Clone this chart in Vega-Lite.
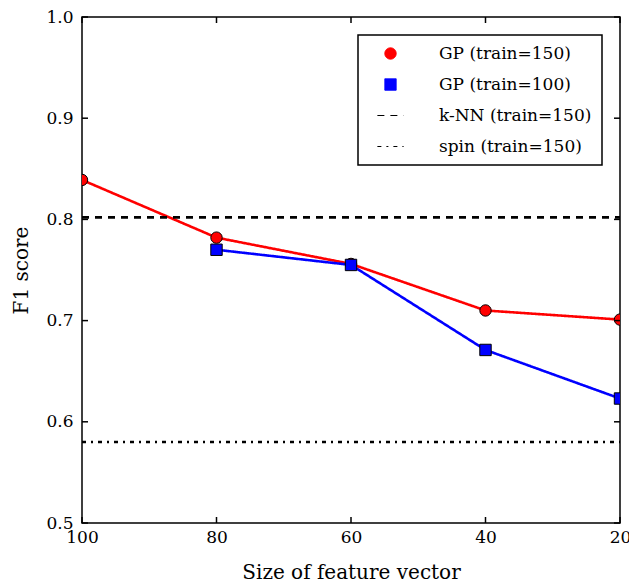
{
  "$schema": "https://vega.github.io/schema/vega-lite/v6.json",
  "width": 538,
  "height": 506,
  "autosize": {"type": "none"},
  "padding": {"left": 82, "top": 17, "right": 9, "bottom": 60},
  "background": "white",
  "config": {
    "view": {"stroke": "black", "strokeWidth": 1.5},
    "font": "DejaVu Serif",
    "axis": {
      "labelFont": "DejaVu Serif", "titleFont": "DejaVu Serif",
      "labelFontSize": 17, "titleFontSize": 20, "titleFontWeight": "normal",
      "labelColor": "black", "titleColor": "black", "labelFlush": false,
      "grid": false, "domain": false, "ticks": false
    }
  },
  "datasets": {
    "scores": [
      {"series": "GP (train=150)", "dim": 100, "f1": 0.839},
      {"series": "GP (train=150)", "dim": 80, "f1": 0.782},
      {"series": "GP (train=150)", "dim": 60, "f1": 0.756},
      {"series": "GP (train=150)", "dim": 40, "f1": 0.710},
      {"series": "GP (train=150)", "dim": 20, "f1": 0.701},
      {"series": "GP (train=100)", "dim": 80, "f1": 0.770},
      {"series": "GP (train=100)", "dim": 60, "f1": 0.755},
      {"series": "GP (train=100)", "dim": 40, "f1": 0.671},
      {"series": "GP (train=100)", "dim": 20, "f1": 0.623},
      {"series": "k-NN (train=150)", "dim": 100, "f1": 0.802},
      {"series": "k-NN (train=150)", "dim": 20, "f1": 0.802},
      {"series": "spin (train=150)", "dim": 100, "f1": 0.580},
      {"series": "spin (train=150)", "dim": 20, "f1": 0.580}
    ],
    "xticks": [{"v": 100}, {"v": 80}, {"v": 60}, {"v": 40}, {"v": 20}],
    "yticks": [{"v": 0.5}, {"v": 0.6}, {"v": 0.7}, {"v": 0.8}, {"v": 0.9}, {"v": 1.0}]
  },
  "data": {"name": "scores"},
  "resolve": {"axis": {"x": "independent", "y": "independent"}},
  "layer": [
    {
      "mark": {"type": "line", "strokeWidth": 2.6, "clip": true},
      "encoding": {
        "x": {"field": "dim", "type": "quantitative",
              "scale": {"domain": [20, 100], "reverse": true, "nice": false, "zero": false},
              "axis": {"values": [100, 80, 60, 40, 20], "title": "Size of feature vector", "labelPadding": 6, "titlePadding": 17, "orient": "bottom"}},
        "y": {"field": "f1", "type": "quantitative",
              "scale": {"domain": [0.5, 1.0], "nice": false, "zero": false},
              "axis": {"values": [0.5, 0.6, 0.7, 0.8, 0.9, 1.0], "format": ".1f", "title": "F1 score", "labelPadding": 9, "titlePadding": 14, "orient": "left"}},
        "color": {"field": "series", "type": "nominal",
                  "scale": {"domain": ["GP (train=150)", "GP (train=100)", "k-NN (train=150)", "spin (train=150)"], "range": ["#ff0000", "#0000ff", "black", "black"]},
                  "legend": {
                    "title": null, "orient": "top-right", "offset": 18,
                    "labelFont": "DejaVu Serif", "labelFontSize": 17, "labelColor": "black",
                    "strokeColor": "black", "fillColor": "white", "padding": 10,
                    "symbolSize": 130, "symbolOffset": 14,
                    "rowPadding": 13, "labelOffset": 40, "cornerRadius": 0,
                    "encode": {
                      "legend": {"update": {"strokeWidth": {"value": 1.5}}},
                      "symbols": {"update": {
                        "stroke": {"value": "black"},
                        "fill": {"scale": "color", "field": "value"},
                        "strokeWidth": {"scale": "strokeWidth", "field": "value"},
                        "strokeDash": {"scale": "strokeDash", "field": "value"},
                        "opacity": {"value": 1}
                      }}
                    }
                  }},
        "strokeDash": {"field": "series", "type": "nominal",
                       "scale": {"domain": ["GP (train=150)", "GP (train=100)", "k-NN (train=150)", "spin (train=150)"], "range": [[1, 0], [1, 0], [7, 6], [4, 5, 2, 5]]}}
      }
    },
    {
      "transform": [{"filter": "indexof(datum.series, 'GP') === 0"}],
      "mark": {"type": "point", "filled": true, "stroke": "black", "opacity": 1, "clip": true, "size": 130},
      "encoding": {
        "x": {"field": "dim", "type": "quantitative", "axis": null},
        "y": {"field": "f1", "type": "quantitative", "axis": null},
        "color": {"field": "series", "type": "nominal"},
        "shape": {"field": "series", "type": "nominal",
                  "scale": {"domain": ["GP (train=150)", "GP (train=100)", "k-NN (train=150)", "spin (train=150)"], "range": ["circle", "square", "M-2.3,0H2.3", "M-2.3,0H2.3"]}},
        "strokeWidth": {"field": "series", "type": "nominal",
                 "scale": {"domain": ["GP (train=150)", "GP (train=100)", "k-NN (train=150)", "spin (train=150)"], "range": [1, 1, 2.6, 2.6]}}
      }
    },
    {
      "data": {"name": "xticks"},
      "mark": {"type": "tick", "orient": "vertical", "size": 6, "thickness": 1.5, "color": "black", "opacity": 1, "yOffset": -3},
      "encoding": {
        "x": {"field": "v", "type": "quantitative", "axis": null},
        "y": {"datum": 0.5, "type": "quantitative", "axis": null}
      }
    },
    {
      "data": {"name": "xticks"},
      "mark": {"type": "tick", "orient": "vertical", "size": 6, "thickness": 1.5, "color": "black", "opacity": 1, "yOffset": 3},
      "encoding": {
        "x": {"field": "v", "type": "quantitative", "axis": null},
        "y": {"datum": 1.0, "type": "quantitative", "axis": null}
      }
    },
    {
      "data": {"name": "yticks"},
      "mark": {"type": "tick", "orient": "horizontal", "size": 6, "thickness": 1.5, "color": "black", "opacity": 1, "xOffset": 3},
      "encoding": {
        "y": {"field": "v", "type": "quantitative", "axis": null},
        "x": {"datum": 100, "type": "quantitative", "axis": null}
      }
    },
    {
      "data": {"name": "yticks"},
      "mark": {"type": "tick", "orient": "horizontal", "size": 6, "thickness": 1.5, "color": "black", "opacity": 1, "xOffset": -3},
      "encoding": {
        "y": {"field": "v", "type": "quantitative", "axis": null},
        "x": {"datum": 20, "type": "quantitative", "axis": null}
      }
    }
  ]
}
